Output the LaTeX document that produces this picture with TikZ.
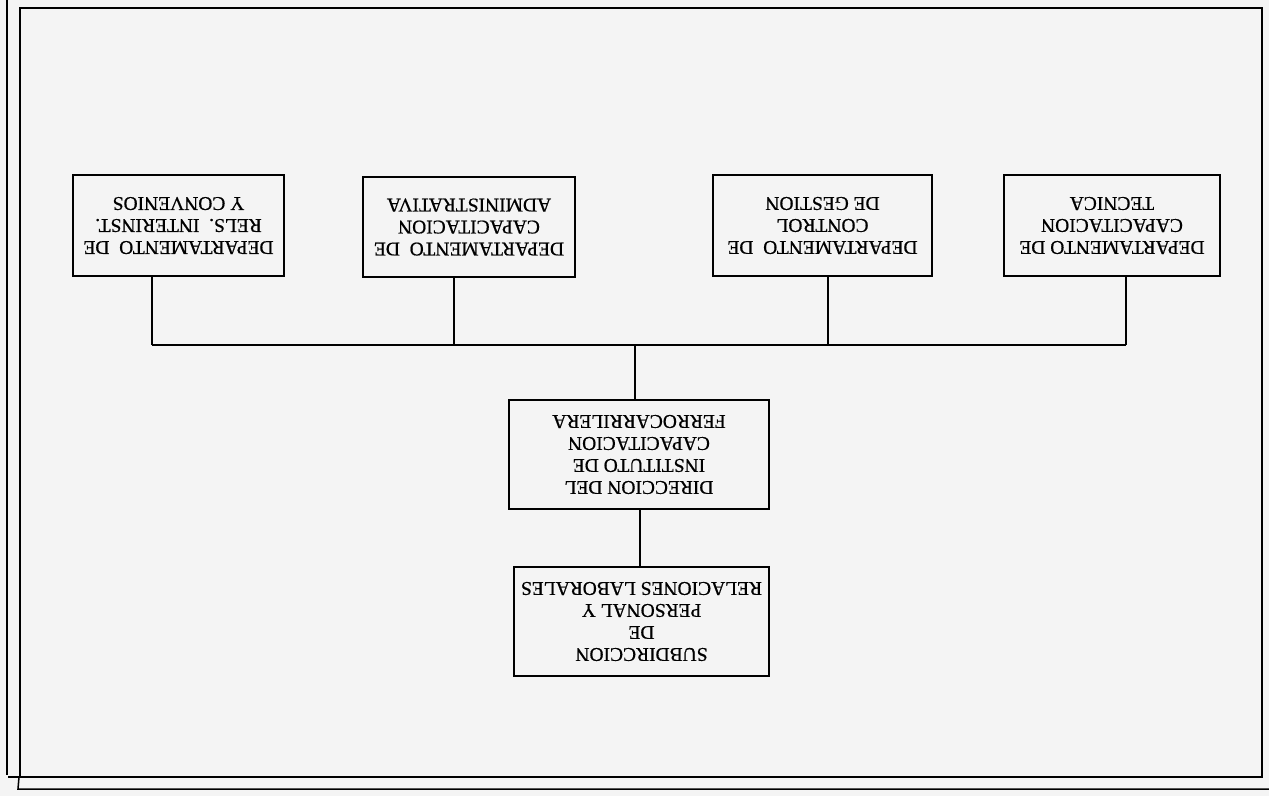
\documentclass[tikz,border=0pt]{standalone}
\usepackage{fontspec}
\setmainfont{Liberation Serif}
\newfontfamily\boxfont[FakeBold=0.6]{Liberation Serif}
\definecolor{paper}{HTML}{F4F4F4}
\begin{document}
\begin{tikzpicture}[x=1pt,y=-1pt,
  orgbox/.style={draw=black, line width=1.6pt, rotate=180, align=center,
    inner sep=0pt, font=\boxfont\fontsize{19.5}{22}\selectfont},
  link/.style={draw=black, line width=1.6pt},
  frame/.style={draw=black, line width=1.5pt}]
\fill[paper] (0,0) rectangle (1269,796);
\useasboundingbox (0,0) rectangle (1269,796);
% frame
\draw[frame] (20,8) rectangle (1262,777);
\draw[frame] (20,777) -- (8,777);
\draw[frame] (19,777) -- (18,789) -- (1269,789);
\draw[draw=black, line width=1.2pt] (7,0) -- (7,775);
% boxes (rotated 180: anchor north is visually at the bottom)
\node[orgbox, minimum width=211pt, minimum height=101pt] (b1) at (178.5,225.5)
  {DEPARTAMENTO\ \ DE\\RELS.\ \ INTERINST.\\Y CONVENIOS};
\node[orgbox, minimum width=212pt, minimum height=100pt] (b2) at (469,227)
  {DEPARTAMENTO\ \ DE\\CAPACITACION\\ADMINISTRATIVA};
\node[orgbox, minimum width=219pt, minimum height=101pt] (b3) at (822.5,225.5)
  {DEPARTAMENTO\ \ DE\\CONTROL\\DE GESTION};
\node[orgbox, minimum width=216pt, minimum height=101pt] (b4) at (1112,225.5)
  {DEPARTAMENTO DE\\CAPACITACION\\TECNICA};
\node[orgbox, minimum width=260pt, minimum height=109pt] (dir) at (639,454.5)
  {DIRECCION DEL\\INSTITUTO DE\\CAPACITACION\\FERROCARRILERA};
\node[orgbox, minimum width=255pt, minimum height=109pt] (sub) at (641.5,621.5)
  {SUBDIRCCION\\DE\\PERSONAL Y\\RELACIONES LABORALES};
% connectors
\coordinate (j1) at (152,345);
\coordinate (j2) at (454,345);
\coordinate (j3) at (828,345);
\coordinate (j4) at (1126,345);
\coordinate (jc) at (635,345);
\draw[link] (j1) -- (j4);
\draw[link] (j1) -- (j1 |- b1.north);
\draw[link] (j2) -- (j2 |- b2.north);
\draw[link] (j3) -- (j3 |- b3.north);
\draw[link] (j4) -- (j4 |- b4.north);
\draw[link] (jc) -- (jc |- dir.south);
\coordinate (jd) at (640,509);
\draw[link] (jd |- dir.north) -- (jd |- sub.south);
\end{tikzpicture}
\end{document}
